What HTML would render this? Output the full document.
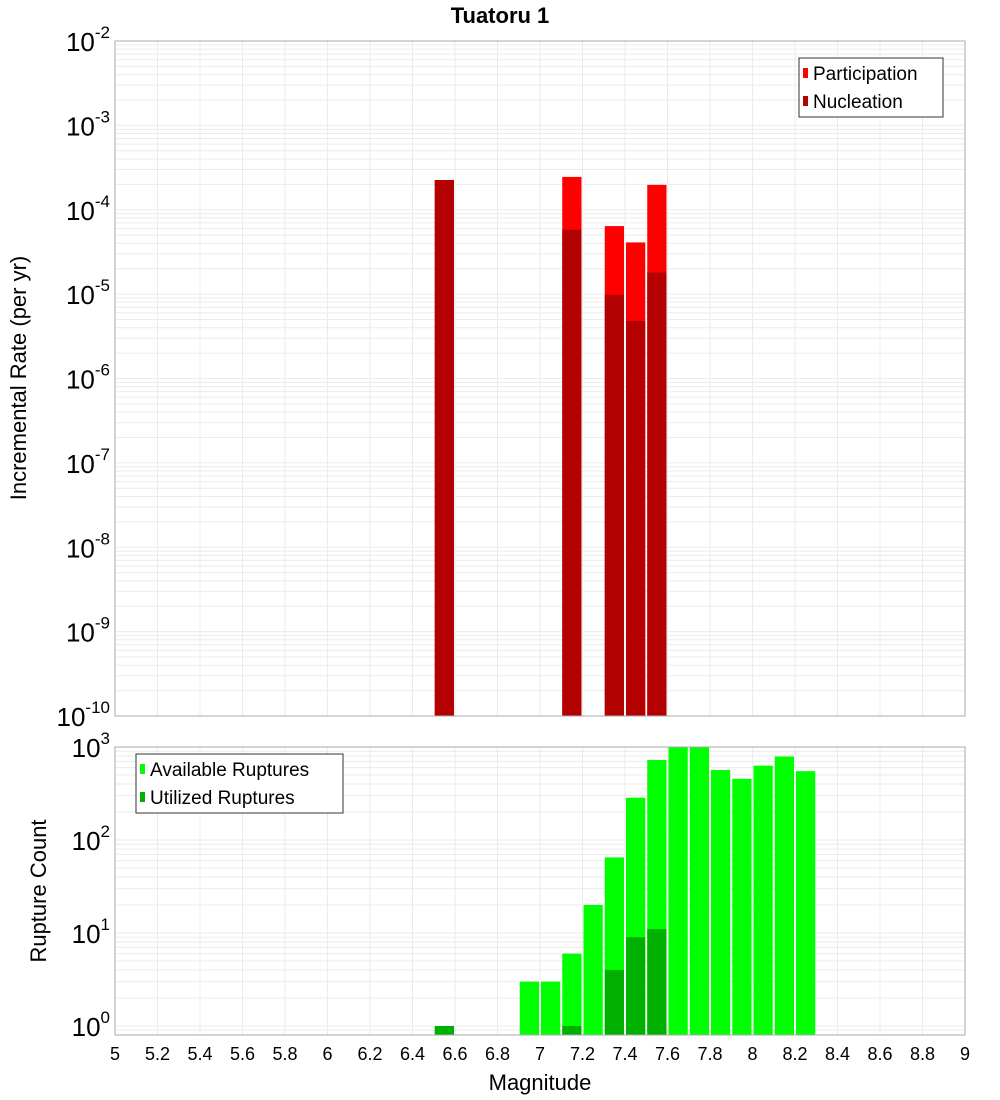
<!DOCTYPE html>
<html><head><meta charset="utf-8"><style>
html,body{margin:0;padding:0;background:#fff;width:1000px;height:1100px;overflow:hidden}
svg{display:block;font-family:"Liberation Sans","DejaVu Sans",sans-serif}
</style></head><body>
<svg id="chart" width="1000" height="1100" xmlns="http://www.w3.org/2000/svg">
<text x="500" y="23" text-anchor="middle" font-size="22" font-weight="bold">Tuatoru 1</text>
<text transform="translate(26,378) rotate(-90)" text-anchor="middle" font-size="22">Incremental Rate (per yr)</text>
<text transform="translate(46,891) rotate(-90)" text-anchor="middle" font-size="22">Rupture Count</text>
<text x="540" y="1090" text-anchor="middle" font-size="22">Magnitude</text>
<g id="top"></g>
<g id="bot"></g>
<g id="xt"></g>
</svg>
<script>
const rateMags = [6.55, 7.15, 7.35, 7.45, 7.55];
const participation = [2.25e-4, 2.45e-4, 6.4e-5, 4.1e-5, 1.97e-4];
const nucleation = [2.25e-4, 5.8e-5, 9.8e-6, 4.8e-6, 1.8e-5];
const countMags = [6.55, 6.95, 7.05, 7.15, 7.25, 7.35, 7.45, 7.55, 7.65, 7.75, 7.85, 7.95, 8.05, 8.15, 8.25];
const available = [1, 3, 3, 6, 20, 65, 285, 725, 1000, 990, 565, 455, 630, 790, 550];
const utilized = [1, 0, 0, 1, 0, 4, 9, 11, 0, 0, 0, 0, 0, 0, 0];
const xTicks = [5,5.2,5.4,5.6,5.8,6,6.2,6.4,6.6,6.8,7,7.2,7.4,7.6,7.8,8,8.2,8.4,8.6,8.8,9];
const topDecades = [-2,-3,-4,-5,-6,-7,-8,-9,-10];
const botDecades = [0,1,2,3];

const NS = "http://www.w3.org/2000/svg";
const L = 115, R = 965;
const x = m => L + (m - 5) / 4 * (R - L);
const yTop = v => 41 + (-2 - Math.log10(v)) * (675 / 8);
const yBot = v => 1026 - Math.log10(v) * 93;
function mk(tag, attrs, parent){const e=document.createElementNS(NS,tag);for(const k in attrs)e.setAttribute(k,attrs[k]);parent.appendChild(e);return e;}

function panel(g, top, bot, yf, lo, hi){
  // minor/major grid
  for(let d=lo; d<=hi; d++){
    for(let k=1;k<10;k++){
      const v=k*Math.pow(10,d); const yy=yf(v);
      if(yy<top-0.5||yy>bot+0.5) continue;
      const ln=mk('line',{x1:L,x2:R,y1:yy,y2:yy,stroke:'#ebebeb','stroke-width':1},g);
      
      
    }
  }
  xTicks.forEach(t=>{
    const ln=mk('line',{x1:x(t),x2:x(t),y1:top,y2:bot,stroke:'#ebebeb','stroke-width':1},g);
    
    
  });
}
function border(g, top, bot){
  const r=mk('rect',{x:L,y:top,width:R-L,height:bot-top,fill:'none',stroke:'#aaa','stroke-width':1},g);
  
  
}
function ylabel(g, yy, exp){
  const t=mk('text',{x:110,y:yy+10,'text-anchor':'end','font-size':26},g);
  
  
  t.textContent='10';
  const s=mk('tspan',{dy:-13,'font-size':17},t);
  s.textContent=String(exp);
}
function bar(g, m, v, yf, bot, color, name){
  if(!(v>0)) return;
  const yy=Math.max(yf(v), bot-10000);
  const r=mk('rect',{x:x(m-0.05)+1,y:yy,width:(x(0.1)-x(0))-2,height:bot-yy,fill:color},g);
  
  
}
function legend(g, bx, by, w, items){
  const r=mk('rect',{x:bx,y:by,width:w,height:59,fill:'#fff',stroke:'#333','stroke-width':1},g);
  
  
  items.forEach((it,i)=>{
    const cy=by+15+i*28;
    const sw=mk('rect',{x:bx+4,y:cy-5,width:5,height:10,fill:it[1]},g);
    
    
    const t=mk('text',{x:bx+14,y:cy+7,'font-size':19},g);
    
    
    t.textContent=it[0];
  });
}

const gT=document.getElementById('top');
panel(gT,41,716,yTop,-10,-3);
rateMags.forEach((m,i)=>bar(gT,m,participation[i],yTop,716,'#ff0000','participation-bar'));
rateMags.forEach((m,i)=>bar(gT,m,nucleation[i],yTop,716,'#b30000','nucleation-bar'));
border(gT,41,716);
topDecades.forEach(d=>ylabel(gT,yTop(Math.pow(10,d)),d));
legend(gT,799,58,144,[['Participation','#ff0000'],['Nucleation','#b30000']]);

const gB=document.getElementById('bot');
const clip=mk('clipPath',{id:'cb'},gB); mk('rect',{x:L,y:747,width:R-L,height:288},clip);
panel(gB,747,1035,yBot,-1,2);
const bars=mk('g',{'clip-path':'url(#cb)'},gB);


countMags.forEach((m,i)=>bar(bars,m,available[i],yBot,1035,'#00ff00','available-bar'));
countMags.forEach((m,i)=>bar(bars,m,utilized[i],yBot,1035,'#00b000','utilized-bar'));
border(gB,747,1035);
botDecades.forEach(d=>ylabel(gB,yBot(Math.pow(10,d)),d));
legend(gB,136,754,207,[['Available Ruptures','#00ff00'],['Utilized Ruptures','#00b000']]);

const gX=document.getElementById('xt');
xTicks.forEach(t=>{
  const e=mk('text',{x:x(t),y:1060,'text-anchor':'middle','font-size':18},gX);
  
  
  e.textContent=String(t);
});
</script>
</body></html>
